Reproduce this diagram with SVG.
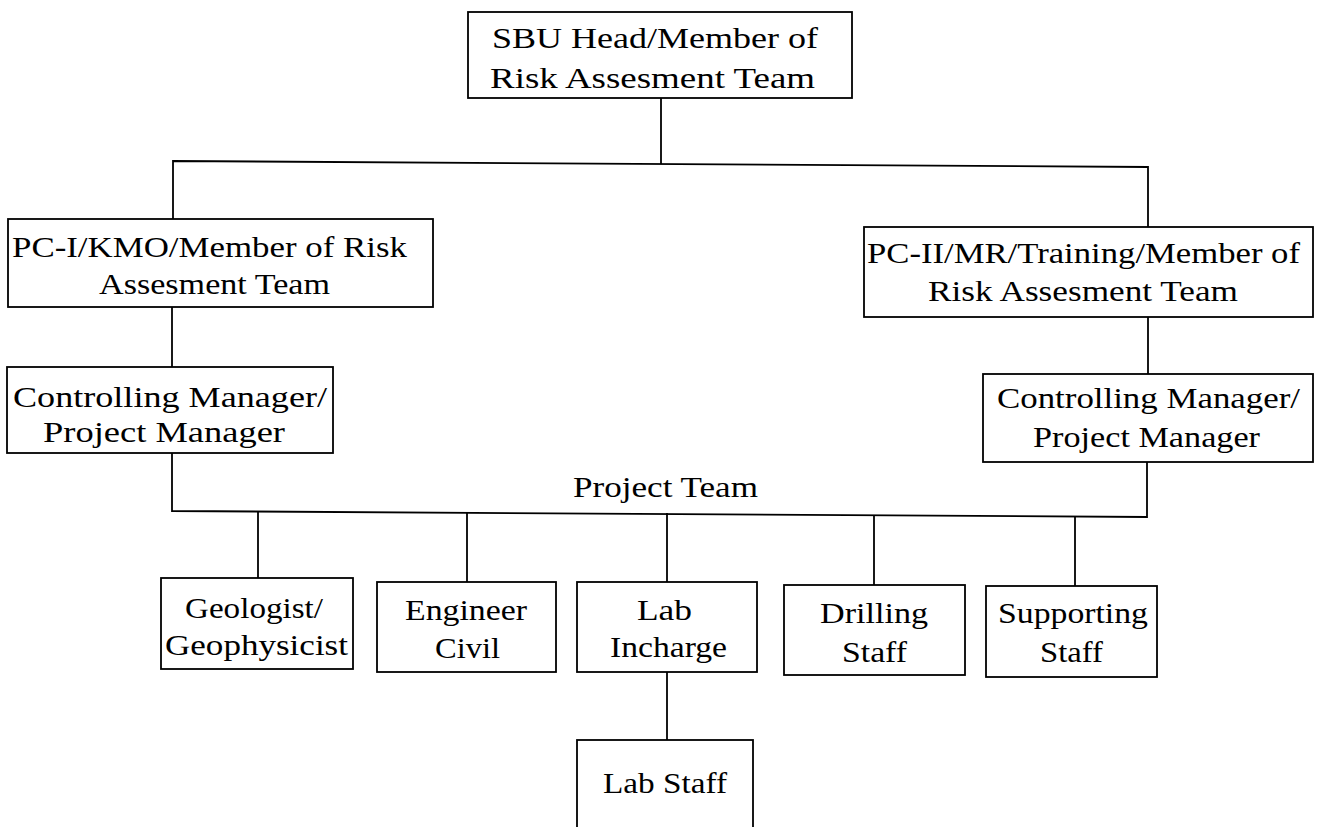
<svg xmlns="http://www.w3.org/2000/svg" width="1321" height="827" viewBox="0 0 1321 827">
<style>
.box{fill:#fff;stroke:#000;stroke-width:1.8}
.ln{fill:none;stroke:#000;stroke-width:1.8}
text{font-family:"Liberation Serif","Times New Roman",serif;font-size:30px;fill:#000}
</style>
<rect width="1321" height="827" fill="#fff"/>
<g id="connectors">
<line class="ln" x1="661" y1="98" x2="661" y2="164"/>
<polyline class="ln" points="173,219 173,161 1148,167 1148,227"/>
<line class="ln" x1="172" y1="307" x2="172" y2="367"/>
<line class="ln" x1="1148" y1="317" x2="1148" y2="374"/>
<polyline class="ln" points="172,453 172,511 1147,517 1147,462"/>
<line class="ln" x1="258" y1="512" x2="258" y2="578"/>
<line class="ln" x1="467" y1="513" x2="467" y2="582"/>
<line class="ln" x1="667" y1="513" x2="667" y2="582"/>
<line class="ln" x1="874" y1="515" x2="874" y2="585"/>
<line class="ln" x1="1075" y1="516" x2="1075" y2="586"/>
<line class="ln" x1="667" y1="672" x2="667" y2="740"/>
<text x="573" y="497" textLength="185" lengthAdjust="spacingAndGlyphs">Project Team</text>
</g>
<g id="sbu">
<rect class="box" x="468" y="12" width="384" height="86"/>
<text x="492" y="48" textLength="326" lengthAdjust="spacingAndGlyphs">SBU Head/Member of</text>
<text x="490" y="88" textLength="325" lengthAdjust="spacingAndGlyphs">Risk Assesment Team</text>
</g>
<g id="pc1">
<rect class="box" x="8" y="219" width="425" height="88"/>
<text x="12" y="257" textLength="395" lengthAdjust="spacingAndGlyphs">PC-I/KMO/Member of Risk</text>
<text x="99" y="294" textLength="231" lengthAdjust="spacingAndGlyphs">Assesment Team</text>
</g>
<g id="pc2">
<rect class="box" x="864" y="227" width="449" height="90"/>
<text x="867" y="263" textLength="433" lengthAdjust="spacingAndGlyphs">PC-II/MR/Training/Member of</text>
<text x="928" y="301" textLength="310" lengthAdjust="spacingAndGlyphs">Risk Assesment Team</text>
</g>
<g id="cm1">
<rect class="box" x="7" y="367" width="326" height="86"/>
<text x="13" y="407" textLength="314" lengthAdjust="spacingAndGlyphs">Controlling Manager/</text>
<text x="43" y="442" textLength="242" lengthAdjust="spacingAndGlyphs">Project Manager</text>
</g>
<g id="cm2">
<rect class="box" x="983" y="374" width="330" height="88"/>
<text x="997" y="408" textLength="303" lengthAdjust="spacingAndGlyphs">Controlling Manager/</text>
<text x="1033" y="447" textLength="227" lengthAdjust="spacingAndGlyphs">Project Manager</text>
</g>
<g id="geologist">
<rect class="box" x="161" y="578" width="192" height="91"/>
<text x="185" y="618" textLength="138" lengthAdjust="spacingAndGlyphs">Geologist/</text>
<text x="165" y="655" textLength="183" lengthAdjust="spacingAndGlyphs">Geophysicist</text>
</g>
<g id="engineer">
<rect class="box" x="377" y="582" width="179" height="90"/>
<text x="405" y="620" textLength="122" lengthAdjust="spacingAndGlyphs">Engineer</text>
<text x="435" y="658" textLength="65" lengthAdjust="spacingAndGlyphs">Civil</text>
</g>
<g id="lab-incharge">
<rect class="box" x="577" y="582" width="180" height="90"/>
<text x="637" y="620" textLength="55" lengthAdjust="spacingAndGlyphs">Lab</text>
<text x="610" y="657" textLength="117" lengthAdjust="spacingAndGlyphs">Incharge</text>
</g>
<g id="drilling">
<rect class="box" x="784" y="585" width="181" height="90"/>
<text x="820" y="623" textLength="108" lengthAdjust="spacingAndGlyphs">Drilling</text>
<text x="842" y="662" textLength="65" lengthAdjust="spacingAndGlyphs">Staff</text>
</g>
<g id="supporting">
<rect class="box" x="986" y="586" width="171" height="91"/>
<text x="998" y="623" textLength="150" lengthAdjust="spacingAndGlyphs">Supporting</text>
<text x="1040" y="662" textLength="63" lengthAdjust="spacingAndGlyphs">Staff</text>
</g>
<g id="lab-staff">
<rect class="box" x="577" y="740" width="176" height="90"/>
<text x="603" y="793" textLength="124" lengthAdjust="spacingAndGlyphs">Lab Staff</text>
</g>
</svg>
